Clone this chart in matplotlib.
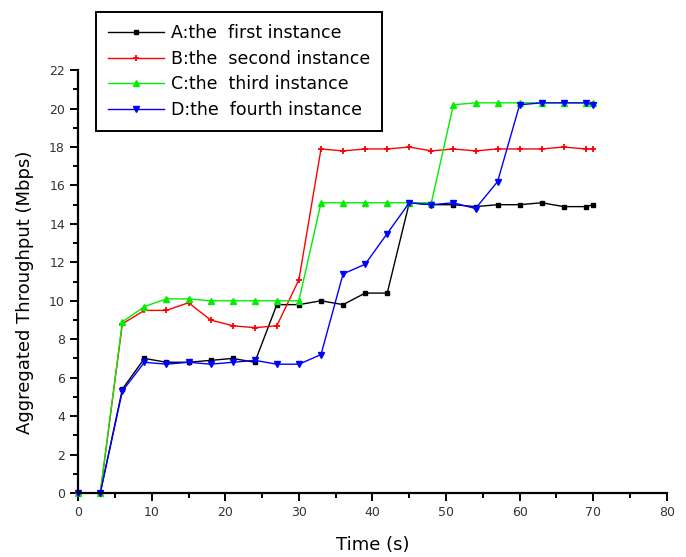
import numpy as np
import matplotlib
matplotlib.use('Agg')
import matplotlib.pyplot as plt
from matplotlib.ticker import MultipleLocator

# time points (s)
time = [0, 3, 6, 9, 12, 15, 18, 21, 24, 27, 30, 33, 36, 39, 42, 45, 48, 51, 54, 57, 60, 63, 66, 69, 70]

first_inst = [0, 0, 5.4, 7.0, 6.8, 6.8, 6.9, 7.0, 6.8, 9.8, 9.8, 10.0, 9.8, 10.4, 10.4,
              15.1, 15.0, 15.0, 14.9, 15.0, 15.0, 15.1, 14.9, 14.9, 15.0]
second_inst = [0, 0, 8.8, 9.5, 9.5, 9.9, 9.0, 8.7, 8.6, 8.7, 11.1, 17.9, 17.8, 17.9, 17.9,
               18.0, 17.8, 17.9, 17.8, 17.9, 17.9, 17.9, 18.0, 17.9, 17.9]
third_inst = [0, 0, 8.9, 9.7, 10.1, 10.1, 10.0, 10.0, 10.0, 10.0, 10.0, 15.1, 15.1, 15.1, 15.1,
              15.1, 15.1, 20.2, 20.3, 20.3, 20.3, 20.3, 20.3, 20.3, 20.3]
fourth_inst = [0, 0, 5.3, 6.8, 6.7, 6.8, 6.7, 6.8, 6.9, 6.7, 6.7, 7.2, 11.4, 11.9, 13.5,
               15.1, 15.0, 15.1, 14.8, 16.2, 20.2, 20.3, 20.3, 20.3, 20.2]

labels = ['A:the  first instance', 'B:the  second instance',
          'C:the  third instance', 'D:the  fourth instance']

plt.rcParams['font.family'] = ['DejaVu Sans']

fig = plt.figure(figsize=(6.86, 5.57), dpi=100)
ax = fig.add_axes([0.114, 0.115, 0.858, 0.759])

ax.plot(time, first_inst, color='black', marker='s', markersize=3.5, linewidth=1.0, label=labels[0], clip_on=False)
ax.plot(time, second_inst, color='red', marker='+', markersize=5, markeredgewidth=1.3, linewidth=1.0, label=labels[1], clip_on=False)
ax.plot(time, third_inst, color='#00ee00', marker='^', markersize=5, linewidth=1.0, label=labels[2], clip_on=False)
ax.plot(time, fourth_inst, color='blue', marker='v', markersize=5, linewidth=1.0, label=labels[3], clip_on=False)

ax.set_xlim(0, 80)
ax.set_ylim(0, 22)
ax.xaxis.set_major_locator(MultipleLocator(10))
ax.xaxis.set_minor_locator(MultipleLocator(5))
ax.yaxis.set_major_locator(MultipleLocator(2))
ax.yaxis.set_minor_locator(MultipleLocator(1))

ax.spines['top'].set_visible(False)
ax.spines['right'].set_visible(False)
ax.spines['left'].set_linewidth(1.6)
ax.spines['bottom'].set_linewidth(1.6)
ax.tick_params(which='major', direction='out', length=6, width=1.4, labelsize=9, labelcolor='#333333')
ax.tick_params(which='minor', direction='out', length=3.5, width=1.4)

ax.set_xlabel('Time (s)', fontsize=13, labelpad=12)
ax.set_ylabel('Aggregated Throughput (Mbps)', fontsize=13)
ax.yaxis.set_label_coords(-0.075, 0.475)

leg = ax.legend(loc='upper left', bbox_to_anchor=(0.14, 0.979), bbox_transform=fig.transFigure,
                fontsize=12.5, frameon=True, fancybox=False, edgecolor='black', framealpha=1,
                handlelength=3.2, borderpad=0.7, labelspacing=0.45, borderaxespad=0,
                handletextpad=0.4)
leg.get_frame().set_linewidth(1.4)

fig.savefig('out.png', dpi=100)
